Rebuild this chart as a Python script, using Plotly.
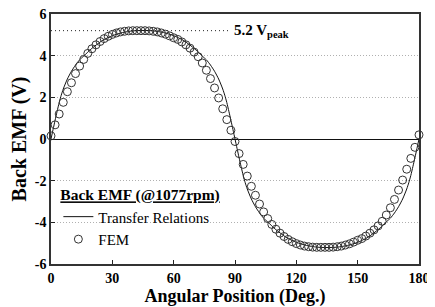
import plotly.graph_objects as go

# Transfer Relations (analytical) curve
tr_x = [0, 1, 2, 3, 4, 5, 6, 8, 10, 12, 14, 16, 18, 20, 25, 30, 35, 40, 45,
        50, 55, 60, 65, 70, 72, 74, 76, 78, 80, 82, 84, 85, 86, 87, 88, 89, 90,
        91, 92, 93, 94, 95, 96, 98, 100, 102, 104, 106, 108, 110, 115, 120, 125, 130, 135,
        140, 145, 150, 155, 160, 162, 164, 166, 168, 170, 172, 174, 175, 176, 177, 178, 179, 180]
tr_y = [0.0, 0.45, 0.9, 1.33, 1.75, 2.1, 2.4, 2.88, 3.25, 3.55, 3.8, 3.98, 4.17, 4.35, 4.72, 4.96, 5.11, 5.19, 5.21,
        5.19, 5.11, 4.96, 4.72, 4.35, 4.17, 3.98, 3.8, 3.55, 3.25, 2.88, 2.4, 2.1, 1.75, 1.33, 0.9, 0.45, 0.0,
        -0.45, -0.9, -1.33, -1.75, -2.1, -2.4, -2.88, -3.25, -3.55, -3.8, -3.98, -4.17, -4.35, -4.72, -4.96, -5.11, -5.19, -5.21,
        -5.19, -5.11, -4.96, -4.72, -4.35, -4.17, -3.98, -3.8, -3.55, -3.25, -2.88, -2.4, -2.1, -1.75, -1.33, -0.9, -0.45, 0.0]

# FEM points every 2 degrees
fem_x = list(range(0, 181, 2))
fem_y = [0.15, 0.68, 1.2, 1.76, 2.27, 2.7, 3.14, 3.5, 3.82, 4.11, 4.33, 4.52, 4.68, 4.82, 4.93, 5.02,
         5.09, 5.14, 5.17, 5.19, 5.2, 5.2, 5.2, 5.2, 5.19, 5.17, 5.14, 5.09, 5.03, 4.95, 4.86,
         4.78, 4.66, 4.52, 4.36, 4.17, 3.95, 3.65, 3.3, 2.9, 2.45, 1.97, 1.45, 0.93, 0.42,
         -0.12, -0.7, -1.22, -1.78, -2.27, -2.7, -3.12, -3.5, -3.82, -4.1, -4.33, -4.52, -4.68, -4.82,
         -4.93, -5.02, -5.09, -5.14, -5.17, -5.19, -5.2, -5.2, -5.2, -5.2, -5.19, -5.17, -5.14,
         -5.09, -5.03, -4.95, -4.86, -4.78, -4.66, -4.52, -4.36, -4.17, -3.95, -3.65, -3.3,
         -2.9, -2.45, -1.97, -1.45, -0.93, -0.4, 0.2]

peak_x = [0, 88]
peak_y = [5.2, 5.2]

x_ticks = [0, 30, 60, 90, 120, 150, 180]
y_ticks = [-6, -4, -2, 0, 2, 4, 6]

serif = "Liberation Serif, serif"

fig = go.Figure()
fig.add_trace(go.Scatter(x=peak_x, y=peak_y, mode="lines", showlegend=False,
                         line=dict(color="#222", width=1, dash="1px,3px"), hoverinfo="skip"))
fig.add_trace(go.Scatter(x=tr_x, y=tr_y, mode="lines",
                         name="<span style='font-family:Liberation Serif'>Transfer Relations</span>",
                         line=dict(color="#111", width=1, shape="spline", smoothing=0.6)))
fig.add_trace(go.Scatter(x=fem_x, y=fem_y, mode="markers",
                         name="<span style='font-family:Liberation Serif'>FEM</span>", cliponaxis=False,
                         marker=dict(symbol="circle-open", size=8, color="#333",
                                     line=dict(width=1, color="#333"))))

fig.add_annotation(x=88.5, y=5.2, xref="x", yref="y", xanchor="left", yanchor="middle",
                   text="<b>5.2 V<sub>peak</sub></b>", showarrow=False,
                   font=dict(family=serif, size=15, color="#000"))

fig.update_layout(
    width=427, height=299,
    margin=dict(l=43, r=16, t=6, b=43),
    paper_bgcolor="white", plot_bgcolor="white",
    font=dict(family=serif, color="#000"),
    legend=dict(x=0.02, y=0.335, xanchor="left", yanchor="top",
                bgcolor="rgba(0,0,0,0)",
                title=dict(text="<b><u>Back EMF (@1077rpm)</u></b>",
                           font=dict(family=serif, size=15.5, color="#000")),
                font=dict(family=serif, size=15, color="#000"),
                itemwidth=30, tracegroupgap=0),
    xaxis=dict(range=[0, 180], tickvals=x_ticks, ticktext=[f"<b>{v}</b>" for v in x_ticks],
               showgrid=False, zeroline=False, showline=True, mirror=True, automargin=False,
               linecolor="#333", linewidth=1.5, ticks="inside", ticklen=4, tickcolor="#222",
               ticklabeloverflow="allow",
               tickfont=dict(family=serif, size=14, color="#000"),
               title=dict(text="<b>Angular Position (Deg.)</b>", standoff=2,
                          font=dict(family=serif, size=18, color="#000"))),
    yaxis=dict(range=[-6, 6], tickvals=y_ticks, ticktext=[f"<b>{v}</b>" for v in y_ticks],
               showgrid=True, gridcolor="#b0b0b0", griddash="1px,2px", gridwidth=1,
               zeroline=True, zerolinecolor="#111", zerolinewidth=1.2,
               showline=True, mirror=True, linecolor="#333", linewidth=1.5, automargin=False,
               ticks="inside", ticklen=4, tickcolor="#222", ticklabeloverflow="allow",
               tickfont=dict(family=serif, size=14, color="#000"),
               title=dict(text="<b>Back EMF (V)</b>", standoff=4,
                          font=dict(family=serif, size=20, color="#000"))),
)

fig.write_html("out.html")
